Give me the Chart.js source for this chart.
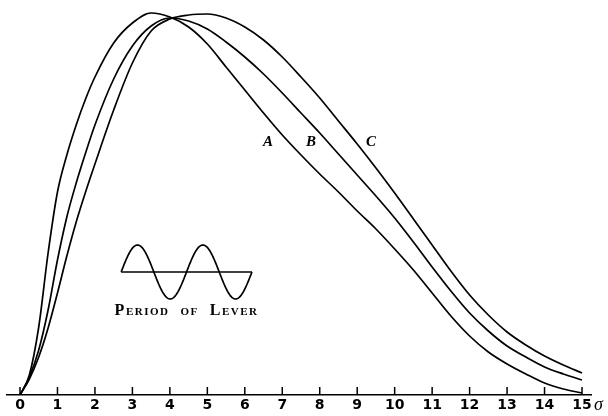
<!DOCTYPE html>
<html>
<head>
<meta charset="utf-8">
<script src="https://cdn.jsdelivr.net/npm/chart.js@4.4.1/dist/chart.umd.min.js"></script>
<style>
  html, body { margin: 0; padding: 0; background: #fff; }
  #wrap { width: 608px; height: 416px; }
</style>
</head>
<body>
<div id="wrap"><canvas id="chart" width="608" height="416"></canvas></div>
<script>
// sigma values (x)
var sigma = [0, 0.25, 0.5, 0.75, 1, 1.25, 1.5, 1.75, 2, 2.5, 3, 3.5, 4, 4.5, 5, 5.5, 6, 6.5, 7, 7.5,
             8, 8.5, 9, 9.5, 10, 10.5, 11, 11.5, 12, 12.5, 13, 13.5, 14, 14.5, 15];

// curve heights (arbitrary units, 0 = axis)
var curveA = [0, 20, 68, 142, 203, 240, 270, 296, 318, 352, 372, 382, 378, 368, 351, 328, 305, 282,
              260, 240, 221, 203, 184, 166, 146, 125, 102, 79, 59, 43, 31, 21, 12, 6, 2];
var curveB = [0, 18, 45, 85, 135, 178, 212, 242, 270, 316, 349, 369, 377, 374, 366, 353, 338, 321,
              302, 282, 262, 241, 220, 199, 177, 153, 128, 104, 82, 64, 49, 38, 28, 21, 15];
var curveC = [0, 16, 38, 67, 102, 139, 173, 203, 231, 285, 332, 364, 376, 380, 381, 377, 368, 355,
              338, 318, 297, 274, 251, 227, 202, 176, 150, 124, 100, 80, 63, 50, 39, 30, 22];

var tickLabels = ["0","1","2","3","4","5","6","7","8","9","10","11","12","13","14","15"];

// curve letters: [text, sigma, height]
var curveNames = [["A", 6.62, 253], ["B", 7.77, 253], ["C", 9.37, 253]];

function pts(ys) {
  var out = [];
  for (var i = 0; i < sigma.length; i++) out.push({x: sigma[i], y: ys[i]});
  return out;
}

function lineSet(ys) {
  return {
    data: pts(ys),
    borderColor: "#000",
    borderWidth: 1.7,
    pointRadius: 0,
    fill: false,
    cubicInterpolationMode: "monotone"
  };
}

var extras = {
  id: "extras",
  afterDraw: function(chart) {
    var ctx = chart.ctx;
    var xs = chart.scales.x, ys = chart.scales.y;
    var base = ys.getPixelForValue(0);
    ctx.save();
    ctx.strokeStyle = "#000";
    ctx.fillStyle = "#000";

    // upward tick marks on the axis
    ctx.lineWidth = 1.5;
    for (var i = 0; i < tickLabels.length; i++) {
      var px = xs.getPixelForValue(i);
      ctx.beginPath();
      ctx.moveTo(px, base);
      ctx.lineTo(px, base - 8);
      ctx.stroke();
    }

    // sigma at the end of the axis
    ctx.font = "italic 18px 'Liberation Serif'";
    ctx.textAlign = "left";
    ctx.textBaseline = "alphabetic";
    ctx.fillText("\u03c3", xs.getPixelForValue(15) + 12, base + 15);

    // curve letters
    ctx.font = "italic bold 15px 'Liberation Serif'";
    ctx.textAlign = "center";
    ctx.textBaseline = "middle";
    curveNames.forEach(function(c) {
      ctx.fillText(c[0], xs.getPixelForValue(c[1]), ys.getPixelForValue(c[2]));
    });

    // inset: period of lever
    var x0 = xs.getPixelForValue(2.70), x1 = xs.getPixelForValue(6.19);
    var yc = ys.getPixelForValue(123);
    var amp = yc - ys.getPixelForValue(150);
    ctx.lineWidth = 1.7;
    ctx.beginPath();
    ctx.moveTo(x0, yc);
    ctx.lineTo(x1, yc);
    ctx.stroke();
    ctx.beginPath();
    for (var k = 0; k <= 200; k++) {
      var t = k / 200;
      var sx = x0 + (x1 - x0) * t;
      var sy = yc - amp * Math.sin(t * 4 * Math.PI);
      if (k === 0) ctx.moveTo(sx, sy); else ctx.lineTo(sx, sy);
    }
    ctx.stroke();

    ctx.font = "small-caps bold 16px 'Liberation Serif'";
    ctx.letterSpacing = "1.5px";
    ctx.textAlign = "center";
    ctx.textBaseline = "alphabetic";
    ctx.fillText("Period  of  Lever", (x0 + x1) / 2, ys.getPixelForValue(80));
    ctx.restore();
  }
};

new Chart(document.getElementById("chart"), {
  type: "line",
  data: { datasets: [lineSet(curveA), lineSet(curveB), lineSet(curveC)] },
  options: {
    responsive: false,
    animation: false,
    layout: { padding: { left: 7, right: 17, top: 5, bottom: 0 } },
    plugins: { legend: { display: false }, tooltip: { enabled: false } },
    scales: {
      x: {
        type: "linear",
        min: -0.347,
        max: 15.24,
        afterBuildTicks: function(scale) {
          scale.ticks = tickLabels.map(function(t, i) { return {value: i}; });
        },
        afterFit: function(scale) { scale.height = 21; },
        ticks: {
          autoSkip: false,
          maxRotation: 0,
          padding: 2,
          color: "#000",
          font: { family: "'DejaVu Sans'", size: 14, weight: "bold" },
          callback: function(v) { return tickLabels[v]; }
        },
        grid: { drawOnChartArea: false, drawTicks: false },
        border: { display: true, color: "#000", width: 1.6 }
      },
      y: {
        display: false,
        min: 0,
        max: 390
      }
    }
  },
  plugins: [extras]
});
</script>
</body>
</html>
